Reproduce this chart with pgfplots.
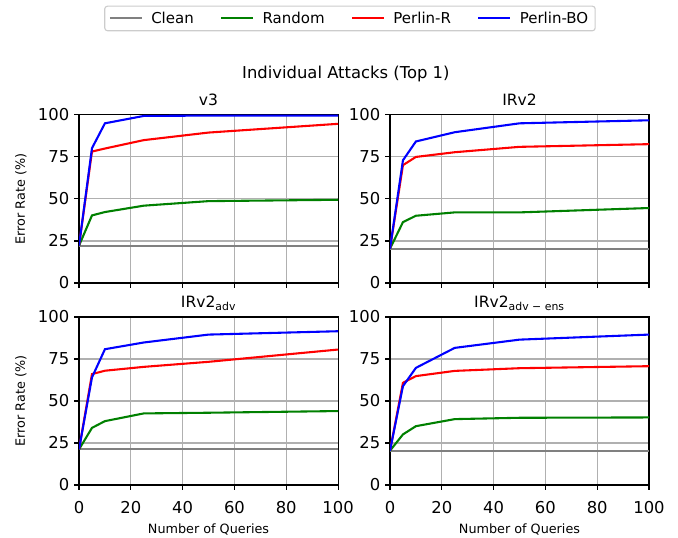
\documentclass[border=0pt]{standalone}
\usepackage{fontspec}
\setmainfont{DejaVu Sans}
\usepackage{pgfplots}
\pgfplotsset{compat=1.18}

\definecolor{mgray}{HTML}{808080}
\definecolor{mgreen}{HTML}{008000}
\definecolor{gridc}{HTML}{B0B0B0}
\definecolor{legc}{HTML}{CCCCCC}

\pgfplotsset{
 myax/.style={
  scale only axis, width=186.5pt, height=121pt,
  xmin=0, xmax=100, ymin=0, ymax=100,
  xtick={0,20,...,100}, ytick={0,25,50,75,100},
  grid=major, major grid style={gridc, line width=0.8pt},
  axis line style={line width=0.8pt, black},
  tick style={black, line width=0.8pt},
  tick align=outside, major tick length=3.5pt,
  xtick pos=bottom, ytick pos=left,
  tick label style={font=\fontsize{11.8}{13}\selectfont},
  xticklabel style={yshift=-4.5pt},
  /pgf/number format/assume math mode=true,
  title style={font=\fontsize{11.2}{13}\selectfont, at={(0.5,1)}, anchor=base, yshift=1pt},
  xlabel style={font=\fontsize{9.2}{11}\selectfont, at={(0.5,0)}, anchor=base, yshift=-35pt},
  ylabel style={font=\fontsize{9.2}{11}\selectfont, at={(0,0.5)}, anchor=center, yshift=41.8pt},
  every axis plot/.append style={line width=1.5pt, no markers},
  legend image code/.code={\draw[#1] (0pt,0pt) -- (23pt,0pt);},
 }
}

\begin{document}
\begin{tikzpicture}
\useasboundingbox (0,0) rectangle (488.16pt,386.64pt);

% v3
\begin{axis}[myax, at={(56.9pt,182.9pt)}, anchor=south west,
  title={v3}, ylabel={Error Rate (\%)}, xticklabels={},
  legend style={at={(1.046,1.574)}, anchor=center, legend columns=4,
    draw=legc, rounded corners=2pt, fill=white, line width=0.8pt,
    font=\fontsize{10.8}{12}\selectfont, inner xsep=3pt, inner ysep=2pt,
    /tikz/every odd column/.append style={column sep=4pt},
    /tikz/every even column/.append style={column sep=17pt}}]
\addplot[mgray] coordinates {(0,22.2)(100,22.2)}; \addlegendentry{Clean}
\addplot[mgreen] coordinates {(0,22.2)(5,40.2)(10,42.2)(25,46)(50,48.7)(100,49.5)}; \addlegendentry{Random}
\addplot[red] coordinates {(0,22.2)(5,78.2)(10,80)(25,85)(50,89.5)(100,94.7)}; \addlegendentry{Perlin-R}
\addplot[blue] coordinates {(0,22.2)(5,80.2)(10,95)(25,99.4)(50,99.6)(100,99.6)}; \addlegendentry{Perlin-BO}
\end{axis}

% IRv2
\begin{axis}[myax, at={(280.8pt,182.9pt)}, anchor=south west,
  title={IRv2}, xticklabels={}]
\addplot[mgray] coordinates {(0,20.4)(100,20.4)};
\addplot[mgreen] coordinates {(0,20.4)(5,36.2)(10,40)(25,42)(50,42)(100,44.6)};
\addplot[red] coordinates {(0,20.4)(5,70.1)(10,75)(25,77.8)(50,81)(100,82.6)};
\addplot[blue] coordinates {(0,20.4)(5,73)(10,84.2)(25,89.7)(50,95)(100,96.8)};
\end{axis}

% IRv2 adv
\begin{axis}[myax, at={(56.9pt,37.44pt)}, anchor=south west,
  title={IRv2\textsubscript{adv}}, ylabel={Error Rate (\%)}, xlabel={Number of Queries}]
\addplot[mgray] coordinates {(0,21.2)(100,21.2)};
\addplot[mgreen] coordinates {(0,21.2)(5,34)(10,38)(25,42.6)(50,43)(100,44)};
\addplot[red] coordinates {(0,21.2)(5,66)(10,68)(25,70.3)(50,73.3)(100,80.6)};
\addplot[blue] coordinates {(0,21.2)(5,64)(10,80.8)(25,84.8)(50,89.5)(100,91.5)};
\end{axis}

% IRv2 adv-ens
\begin{axis}[myax, at={(280.8pt,37.44pt)}, anchor=south west,
  title={IRv2\textsubscript{adv − ens}}, xlabel={Number of Queries}]
\addplot[mgray] coordinates {(0,20.4)(100,20.4)};
\addplot[mgreen] coordinates {(0,20.4)(5,30.1)(10,35)(25,39.2)(50,40)(100,40.2)};
\addplot[red] coordinates {(0,20.4)(5,60.8)(10,64.8)(25,67.9)(50,69.5)(100,70.7)};
\addplot[blue] coordinates {(0,20.4)(5,58.8)(10,69.7)(25,81.6)(50,86.5)(100,89.5)};
\end{axis}

\node[anchor=base, font=\fontsize{11.8}{13}\selectfont] at (249pt,329.8pt) {Individual Attacks (Top 1)};
\end{tikzpicture}
\end{document}
